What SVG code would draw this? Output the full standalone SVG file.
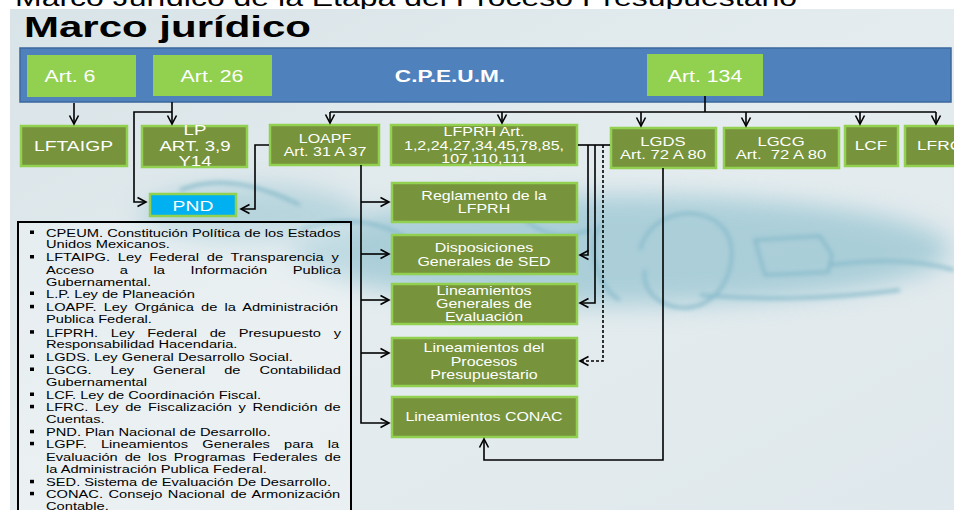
<svg xmlns="http://www.w3.org/2000/svg" width="954" height="510" viewBox="0 0 954 510">
<style>
text{font-family:"Liberation Sans",Arial,sans-serif}
.n{fill:#fff;text-anchor:middle;font-size:12px}
.box{fill:#77933c;stroke:#92d050;stroke-width:2.5}
.art{fill:#92d050}
.c{fill:none;stroke:#000;stroke-width:1.6}
.a{marker-end:url(#arr)}
.lg{font-size:11px;fill:#000}
.bl{fill:#000}
</style>
<defs>
<marker id="arr" markerUnits="userSpaceOnUse" markerWidth="12" markerHeight="12" viewBox="0 0 12 12" refX="10" refY="6" orient="auto">
<path d="M1.5,1.5 L10,6 L1.5,10.5" fill="none" stroke="#000" stroke-width="1.6"/>
</marker>
<filter id="b1" x="-20%" y="-50%" width="140%" height="200%"><feGaussianBlur stdDeviation="12"/></filter>
<filter id="b2" x="-20%" y="-50%" width="140%" height="200%"><feGaussianBlur stdDeviation="2"/></filter>
<linearGradient id="bg" x1="0" y1="0" x2="1" y2="1">
<stop offset="0" stop-color="#d9e4e8"/><stop offset="0.5" stop-color="#e4ecef"/><stop offset="1" stop-color="#dfe8ec"/>
</linearGradient>
</defs>
<rect width="954" height="510" fill="#fff"/>
<text transform="translate(15,6) scale(1.333,1)" font-size="24" fill="#000">Marco Jurídico de la Etapa del Proceso Presupuestario</text>
<rect x="10" y="9" width="944" height="501" fill="url(#bg)"/>
<g id="swirl" opacity="0.6">
<ellipse cx="620" cy="250" rx="330" ry="55" fill="#86bccb" filter="url(#b1)"/>
<ellipse cx="250" cy="215" rx="110" ry="30" fill="#9cc7d3" filter="url(#b1)"/>
<g fill="none" stroke="#4a9ab2" stroke-width="3" filter="url(#b2)">
<path d="M640,250 C650,210 700,205 720,225 C740,240 735,290 700,305 C670,315 640,295 645,270"/>
<path d="M600,225 C585,250 600,290 620,300"/>
<path d="M755,240 L820,236 L832,255 L828,272 L765,275 Z"/>
<path d="M830,265 C870,260 910,258 954,270"/>
<path d="M700,295 C760,300 820,300 900,290"/>
<path d="M420,200 C450,185 490,190 520,215 C540,235 560,240 590,230"/>
<path d="M300,230 C340,215 380,220 410,240"/>
<path d="M180,190 C220,175 260,185 300,205"/>
</g>
</g>
<text transform="translate(24,37) scale(1.4,1)" font-size="30" font-weight="bold" fill="#000">Marco jurídico</text>

<g id="cpeum">
<rect x="20" y="48" width="931" height="54" fill="#4f81bd" stroke="#3b679c" stroke-width="1.5"/>
<text class="n" transform="translate(450,82) scale(1.333,1)" style="font-size:17px;font-weight:bold">C.P.E.U.M.</text>
</g>
<g id="art6"><rect class="art" x="27" y="55" width="109" height="42"/><text class="n" transform="translate(70,82) scale(1.333,1)" style="font-size:16px">Art. 6</text></g>
<g id="art26"><rect class="art" x="153" y="55" width="119" height="41"/><text class="n" transform="translate(212,82) scale(1.333,1)" style="font-size:16px">Art. 26</text></g>
<g id="art134"><rect class="art" x="647" y="54" width="116" height="42"/><text class="n" transform="translate(705,82) scale(1.333,1)" style="font-size:16px">Art. 134</text></g>

<g id="lftaigp"><rect class="box" x="21" y="126" width="106" height="40"/><text class="n" transform="translate(73.5,151) scale(1.333,1)" style="font-size:14.5px">LFTAIGP</text></g>
<g id="lp"><rect class="box" x="142" y="126" width="105" height="41"/><text class="n" transform="translate(195,0) scale(1.333,1)" style="font-size:14px"><tspan x="0" y="135">LP</tspan><tspan x="0" y="151">ART. 3,9</tspan><tspan x="0" y="166">Y14</tspan></text></g>
<g id="loapf"><rect class="box" x="270" y="125" width="109" height="40"/><text class="n" transform="translate(325,0) scale(1.333,1)"><tspan x="0" y="143">LOAPF</tspan><tspan x="0" y="156">Art. 31 A 37</tspan></text></g>
<g id="lfprh"><rect class="box" x="391" y="125" width="186" height="40"/><text class="n" transform="translate(484,0) scale(1.333,1)"><tspan x="0" y="136">LFPRH Art.</tspan><tspan x="0" y="150">1,2,24,27,34,45,78,85,</tspan><tspan x="0" y="163">107,110,111</tspan></text></g>
<g id="lgds"><rect class="box" x="611" y="128" width="105" height="40"/><text class="n" transform="translate(663,0) scale(1.333,1)" style="font-size:12.5px"><tspan x="0" y="146">LGDS</tspan><tspan x="0" y="159">Art. 72 A 80</tspan></text></g>
<g id="lgcg"><rect class="box" x="724" y="128" width="115" height="40"/><text class="n" transform="translate(781,0) scale(1.333,1)" style="font-size:12.5px;white-space:pre"><tspan x="0" y="146">LGCG</tspan><tspan x="0" y="159">Art.  72 A 80</tspan></text></g>
<g id="lcf"><rect class="box" x="845" y="126" width="53" height="40"/><text class="n" transform="translate(871,150) scale(1.333,1)" style="font-size:13px">LCF</text></g>
<g id="lfrc"><rect class="box" x="905" y="126" width="60" height="40"/><text class="n" transform="translate(917,150) scale(1.333,1)" style="font-size:13px;text-anchor:start">LFRC</text></g>
<g id="pnd"><rect x="150" y="194" width="86" height="22" fill="#00b0f0" stroke="#92d050" stroke-width="2.5"/><text class="n" transform="translate(193,211) scale(1.333,1)" style="font-size:14.5px">PND</text></g>

<g id="reglamento"><rect class="box" x="392" y="183" width="185" height="39"/><text class="n" transform="translate(484,0) scale(1.333,1)"><tspan x="0" y="200">Reglamento de la</tspan><tspan x="0" y="213">LFPRH</tspan></text></g>
<g id="disposiciones"><rect class="box" x="392" y="235" width="185" height="39"/><text class="n" transform="translate(484,0) scale(1.333,1)"><tspan x="0" y="252">Disposiciones</tspan><tspan x="0" y="266">Generales de SED</tspan></text></g>
<g id="lineamientos-eval"><rect class="box" x="392" y="284" width="185" height="40"/><text class="n" transform="translate(484,0) scale(1.333,1)"><tspan x="0" y="295">Lineamientos</tspan><tspan x="0" y="308">Generales de</tspan><tspan x="0" y="321">Evaluación</tspan></text></g>
<g id="lineamientos-proc"><rect class="box" x="392" y="338" width="185" height="48"/><text class="n" transform="translate(484,0) scale(1.333,1)"><tspan x="0" y="352">Lineamientos del</tspan><tspan x="0" y="366">Procesos</tspan><tspan x="0" y="379">Presupuestario</tspan></text></g>
<g id="conac"><rect class="box" x="392" y="397" width="185" height="40"/><text class="n" transform="translate(484,421) scale(1.333,1)">Lineamientos CONAC</text></g>

<g id="connectors">
<path class="c a" d="M74,103 V124"/>
<path class="c a" d="M172,102 V124"/>
<path class="c a" d="M172,112 H134 V202 H146"/>
<path class="c a" d="M269,145 H255 V209 H241"/>
<path class="c" d="M705,96 V112 M330,112 H936"/>
<path class="c a" d="M330,112 V123"/>
<path class="c a" d="M502,112 V123"/>
<path class="c a" d="M641,112 V126"/>
<path class="c a" d="M746,112 V126"/>
<path class="c a" d="M860,112 V124"/>
<path class="c a" d="M936,112 V124"/>
<path class="c a" d="M361,165 V423 H389"/>
<path class="c a" d="M361,202 H389"/>
<path class="c a" d="M361,254 H389"/>
<path class="c a" d="M361,300 H389"/>
<path class="c a" d="M361,353 H389"/>
<path class="c" d="M578,145 H610"/>
<path class="c a" d="M588,145 V255 H580"/>
<path class="c a" d="M595,145 V303 H580"/>
<path class="c a" d="M603,145 V361 H580" stroke-dasharray="3,2"/>
<path class="c a" d="M663,168 V460 H484 V439"/>
</g>

<g id="legend">
<rect x="18" y="222" width="333" height="300" fill="#ffffff" fill-opacity="0.25" stroke="#000" stroke-width="2"/>
<g class="bl">
<rect x="30" y="230.5" width="4" height="3.5"/>
<rect x="30" y="255" width="4" height="3.5"/>
<rect x="30" y="291.5" width="4" height="3.5"/>
<rect x="30" y="304.8" width="4" height="3.5"/>
<rect x="30" y="330.2" width="4" height="3.5"/>
<rect x="30" y="354.5" width="4" height="3.5"/>
<rect x="30" y="367.5" width="4" height="3.5"/>
<rect x="30" y="392.5" width="4" height="3.5"/>
<rect x="30" y="404.8" width="4" height="3.5"/>
<rect x="30" y="429.8" width="4" height="3.5"/>
<rect x="30" y="441.8" width="4" height="3.5"/>
<rect x="30" y="479.8" width="4" height="3.5"/>
<rect x="30" y="491.8" width="4" height="3.5"/>
</g>
<g transform="translate(46,0) scale(1.333,1)" class="lg">
<text y="237" word-spacing="0.1">CPEUM. Constitución Política de los Estados</text>
<text y="248">Unidos Mexicanos.</text>
<text y="261.5" word-spacing="2.8">LFTAIPG. Ley Federal de Transparencia y</text>
<text y="274" word-spacing="16.2">Acceso a la Información Publica</text>
<text y="285.7">Gubernamental.</text>
<text y="298">L.P. Ley de Planeación</text>
<text y="311.3" word-spacing="2.3">LOAPF. Ley Orgánica de la Administración</text>
<text y="322.7">Publica Federal.</text>
<text y="336.7" word-spacing="6.5">LFPRH. Ley Federal de Presupuesto y</text>
<text y="348.3">Responsabilidad Hacendaria.</text>
<text y="361">LGDS. Ley General Desarrollo Social.</text>
<text y="374" word-spacing="11.15">LGCG. Ley General de Contabilidad</text>
<text y="385.7">Gubernamental</text>
<text y="399">LCF. Ley de Coordinación Fiscal.</text>
<text y="411.3" word-spacing="1.9">LFRC. Ley de Fiscalización y Rendición de</text>
<text y="423">Cuentas.</text>
<text y="436.3">PND. Plan Nacional de Desarrollo.</text>
<text y="448.3" word-spacing="7.6">LGPF. Lineamientos Generales para la</text>
<text y="460.7" word-spacing="2.2">Evaluación de los Programas Federales de</text>
<text y="473">la Administración Publica Federal.</text>
<text y="486.3">SED. Sistema de Evaluación De Desarrollo.</text>
<text y="498.3" word-spacing="1.1">CONAC. Consejo Nacional de Armonización</text>
<text y="510.3">Contable.</text>
</g>
</g>
</svg>
